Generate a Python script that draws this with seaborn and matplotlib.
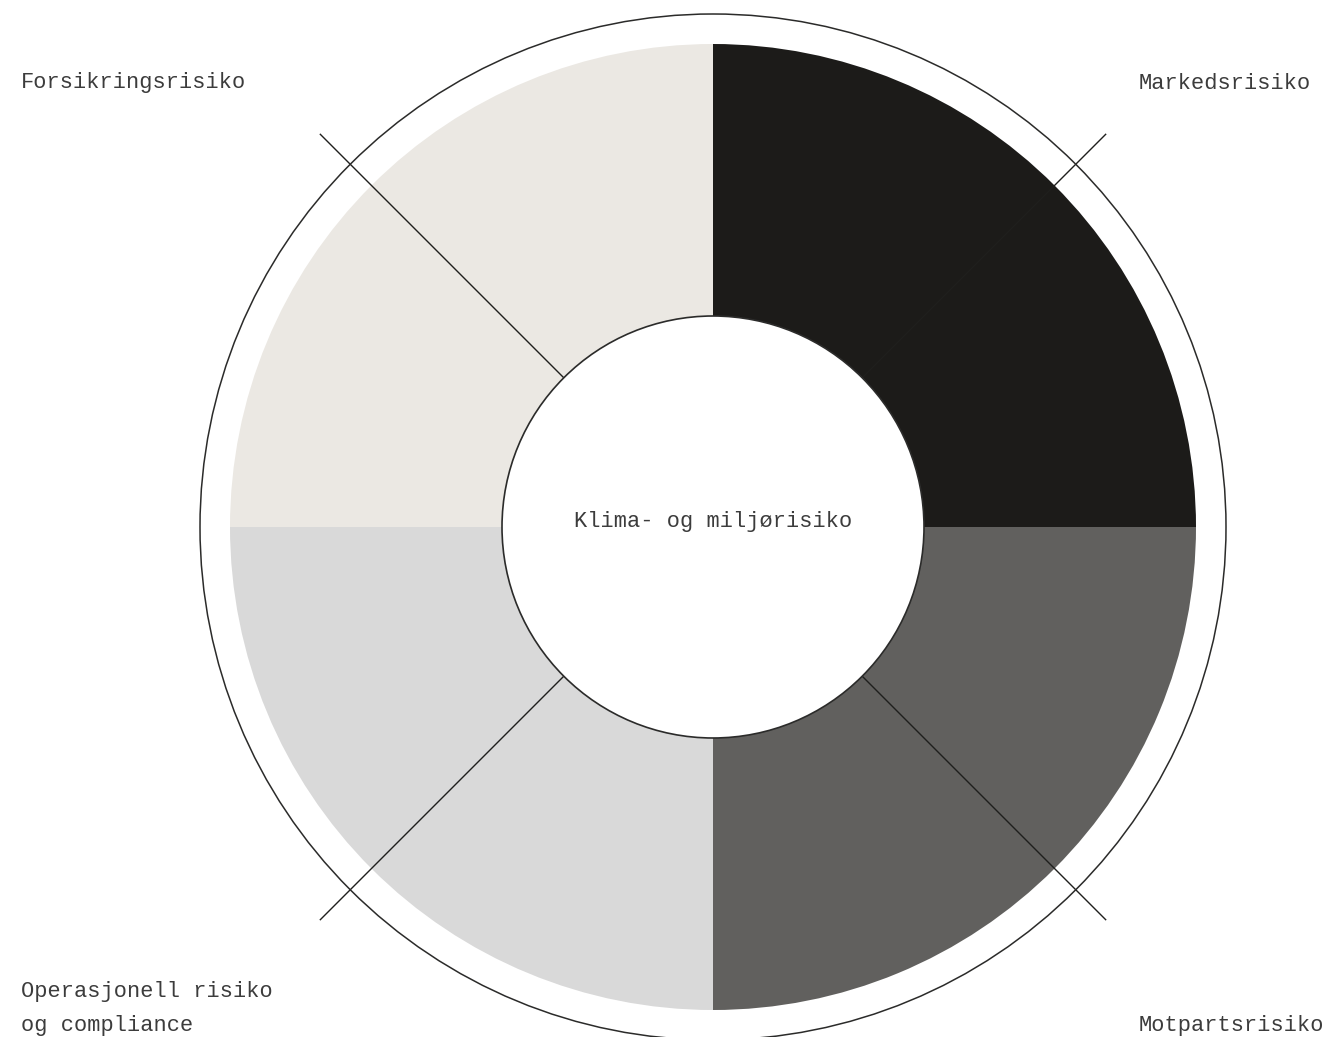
import numpy as np
import matplotlib
matplotlib.use("Agg")
import matplotlib.pyplot as plt
import seaborn as sns

# Risk categories around the ring (counter-clockwise from 3 o'clock)
categories = ["Markedsrisiko", "Forsikringsrisiko",
              "Operasjonell risiko\nog compliance", "Motpartsrisiko"]
shares = [25, 25, 25, 25]
colors = ["#1c1b19", "#ebe8e3", "#d9d9d9", "#61605e"]
center_label = "Klima- og miljørisiko"

sns.set_theme(style="white")
plt.rcParams["font.family"] = ["Liberation Mono", "DejaVu Sans Mono"]

W, H = 1326, 1037
fig = plt.figure(figsize=(W / 100, H / 100), dpi=100)
ax = fig.add_axes([0, 0, 1, 1])

cx, cy = 713, H - 527
r_outer, r_inner, r_ring, r_line = 483, 211, 513, 556
ink = "#2b2b2a"
line_ink = "#1f1f1d"
txt = "#3c3c3c"

palette = sns.color_palette(colors)
ax.pie(shares, colors=palette, startangle=0, counterclock=True,
       center=(cx, cy), radius=r_outer,
       wedgeprops=dict(width=r_outer - r_inner, linewidth=0, antialiased=True))

# pixel-based coordinate frame, fixed after the pie
ax.set_xlim(0, W)
ax.set_ylim(0, H)
ax.set_aspect("equal", adjustable="box")
ax.axis("off")

# inner hole outline
ax.add_patch(plt.Circle((cx, cy), r_inner, facecolor="white",
                        edgecolor=ink, lw=1.2, zorder=3))
# thin outer ring
ax.add_patch(plt.Circle((cx, cy), r_ring, fill=False,
                        edgecolor=ink, lw=1.1, zorder=3))

# diagonal dividers through the middle of each category
bounds = np.cumsum([0] + shares) / sum(shares) * 360
mids = (bounds[:-1] + bounds[1:]) / 2
for a in np.deg2rad(mids):
    ax.plot([cx + r_inner * np.cos(a), cx + r_line * np.cos(a)],
            [cy + r_inner * np.sin(a), cy + r_line * np.sin(a)],
            color=line_ink, lw=1.0, zorder=2, solid_capstyle="butt")

fs = 15.8
ax.text(cx, H - 527, center_label, ha="center", va="baseline",
        fontsize=fs, color=txt, zorder=4)

label_pos = {
    "Markedsrisiko": (1139, H - 89),
    "Forsikringsrisiko": (21, H - 88),
    "Operasjonell risiko\nog compliance": (21, H - 997),
    "Motpartsrisiko": (1139, H - 1031),
}
for name in categories:
    x, y = label_pos[name]
    for i, line in enumerate(name.split("\n")):
        ax.text(x, y - i * 34, line, ha="left", va="baseline",
                fontsize=fs, color=txt)

ax.set_xlim(0, W)
ax.set_ylim(0, H)

fig.savefig("out.png", dpi=100)
